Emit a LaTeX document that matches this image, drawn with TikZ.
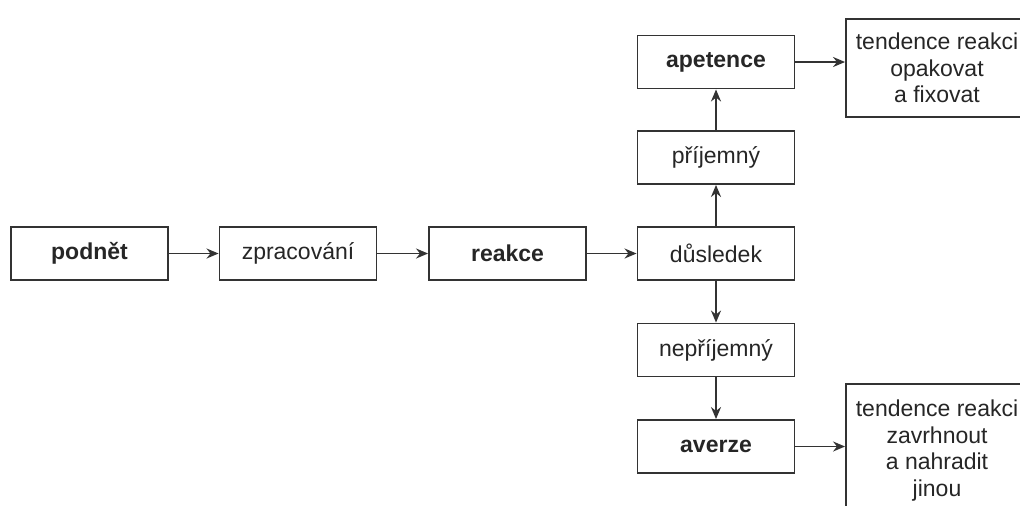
\documentclass[tikz,border=0pt]{standalone}
\usepackage{fontspec}
\setmainfont{Liberation Sans}
\usetikzlibrary{arrows.meta}

\begin{document}
\begin{tikzpicture}[x=0.5pt, y=-0.5pt, >={Stealth[length=6pt,width=5pt]},
    every node/.style={font=\fontsize{11.5}{13.25}\selectfont, text=black!85},
    blok/.style={draw=black!80, line width=0.95pt, minimum width=78.5pt, minimum height=26.5pt, inner sep=0pt},
    hlavni/.style={blok, font=\fontsize{11.5}{13.25}\selectfont\bfseries},
    vystup/.style={draw=black!80, line width=0.95pt, anchor=north, align=center, minimum width=91pt, inner xsep=0pt},
    sipka/.style={->, draw=black!80, line width=0.9pt}]
    \useasboundingbox (0,0) rectangle (1020,505);
    \fill[white] (0,0) rectangle (1020,505);

    % Main row
    \node[hlavni] (podnet) at (89.5,253.5) {podnět};
    \node[blok] (zprac) at (298,253.5) {zpracování};
    \node[hlavni] (reakce) at (507.5,253.5) {reakce};
    \node[blok] (dusl) at (716,253.5) {důsledek};

    % Upper branch
    \node[blok] (prij) at (716,157.5) {příjemný};
    \node[hlavni] (apet) at (716,62) {apetence};
    \node[vystup, inner ysep=7pt] (tendA) at (937,18) {tendence reakci\\opakovat\\a fixovat};

    % Lower branch
    \node[blok] (neprij) at (716,350) {nepříjemný};
    \node[hlavni] (averze) at (716,446.5) {averze};
    \node[vystup, inner ysep=8pt] (tendB) at (937,383) {tendence reakci\\zavrhnout\\a nahradit\\jinou};

    % Arrows
    \draw[sipka] (podnet) -- (zprac);
    \draw[sipka] (zprac) -- (reakce);
    \draw[sipka] (reakce) -- (dusl);
    \draw[sipka] (dusl) -- (prij);
    \draw[sipka] (prij) -- (apet);
    \draw[sipka] (dusl) -- (neprij);
    \draw[sipka] (neprij) -- (averze);
    \draw[sipka] (apet.east) -- (apet.east -| tendA.west);
    \draw[sipka] (averze.east) -- (averze.east -| tendB.west);
\end{tikzpicture}
\end{document}
